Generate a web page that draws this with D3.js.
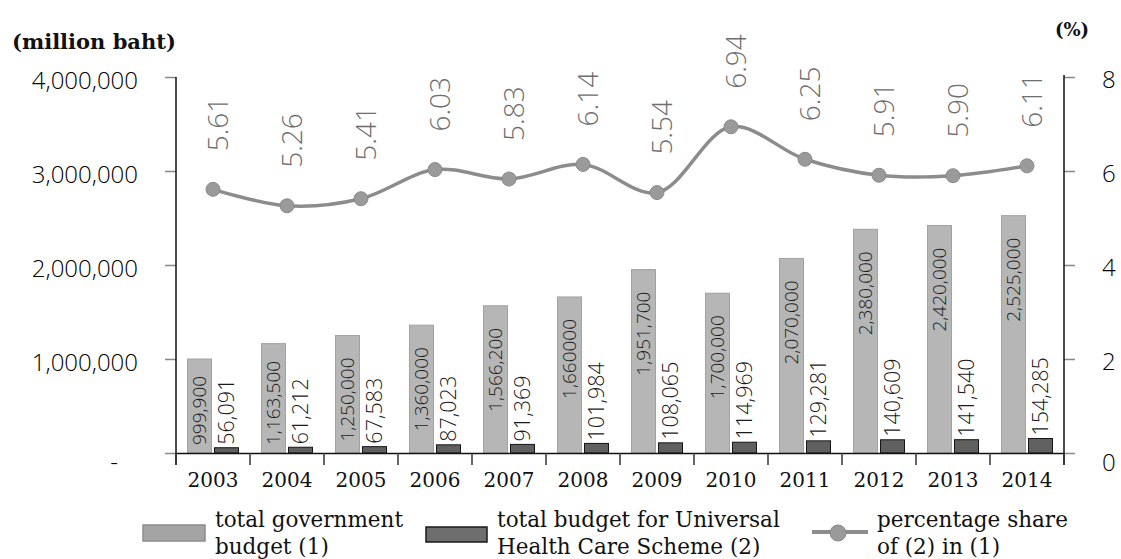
<!DOCTYPE html>
<html>
<head>
<meta charset="utf-8">
<script src="https://cdn.jsdelivr.net/npm/d3@7"></script>
<style>
  html, body { margin: 0; padding: 0; background: #fff; }
  svg { display: block; }
</style>
</head>
<body>
<svg id="chart" width="1121" height="559"></svg>
<script>
const years = ["2003","2004","2005","2006","2007","2008","2009","2010","2011","2012","2013","2014"];
const totalBudget = [999900, 1163500, 1250000, 1360000, 1566200, 1660000, 1951700, 1700000, 2070000, 2380000, 2420000, 2525000];
const totalLabels = ["999,900","1,163,500","1,250,000","1,360,000","1,566,200","1,660000","1,951,700","1,700,000","2,070,000","2,380,000","2,420,000","2,525,000"];
const uhcBudget = [56091, 61212, 67583, 87023, 91369, 101984, 108065, 114969, 129281, 140609, 141540, 154285];
const share = [5.61, 5.26, 5.41, 6.03, 5.83, 6.14, 5.54, 6.94, 6.25, 5.91, 5.90, 6.11];
const leftTicks = [0, 1000000, 2000000, 3000000, 4000000];
const rightTicks = [0, 2, 4, 6, 8];
const legendItems = [
  {key: "total", lines: ["total government", "budget (1)"]},
  {key: "uhc", lines: ["total budget for Universal", "Health Care Scheme (2)"]},
  {key: "share", lines: ["percentage share", "of (2) in (1)"]}
];

const svg = d3.select("#chart");
const sans = "'Open Sans', 'Liberation Sans', Arial, sans-serif";
const serif = "'DejaVu Serif', serif";
const lightW = 300;

const pLeft = 176, pRight = 1064, pTop = 77, pBottom = 453;
const x = d3.scaleBand().domain(years).range([pLeft, pRight]).paddingInner(0).paddingOuter(0);
const xs = d3.scaleBand().domain(["total","uhc"]).range([0, x.bandwidth()]).paddingInner(0.111).paddingOuter(0.426);
const yL = d3.scaleLinear().domain([0, 4000000]).range([pBottom, pTop]);
const yR = d3.scaleLinear().domain([0, 8]).range([pBottom, pTop]);

// Bars
const gBars = svg.append("g");
gBars.selectAll("rect.total").data(years).join("rect")
  .attr("class","total")
  .attr("x", d => x(d) + xs("total"))
  .attr("width", xs.bandwidth())
  .attr("y", (d,i) => yL(totalBudget[i]))
  .attr("height", (d,i) => pBottom - yL(totalBudget[i]))
  .attr("fill", "#b6b6b6").attr("stroke", "#a2a2a2").attr("stroke-width", 1);
gBars.selectAll("rect.uhc").data(years).join("rect")
  .attr("class","uhc")
  .attr("x", d => x(d) + xs("uhc"))
  .attr("width", xs.bandwidth())
  .attr("y", (d,i) => yL(uhcBudget[i]))
  .attr("height", (d,i) => pBottom - yL(uhcBudget[i]))
  .attr("fill", "#606060").attr("stroke", "#151515").attr("stroke-width", 1);

// Axes
const axL = svg.append("g").attr("transform", `translate(${pLeft},0)`)
  .call(d3.axisLeft(yL).tickValues(leftTicks).tickSize(11).tickPadding(27)
    .tickFormat(d => d === 0 ? "-" : d3.format(",")(d)));
axL.select(".domain").remove();
axL.selectAll(".tick line").attr("stroke", "#888").attr("stroke-width", 1.5);
axL.selectAll(".tick text").attr("font-family", sans).attr("font-weight", lightW).attr("font-size", 24).attr("fill", "#000")
  .attr("dy", d => d === 0 ? "0.7em" : "0.48em")
  .attr("dx", d => d === 0 ? -20 : 0);

const axR = svg.append("g").attr("transform", `translate(${pRight},0)`)
  .call(d3.axisRight(yR).tickValues(rightTicks).tickSize(11).tickPadding(27));
axR.select(".domain").remove();
axR.selectAll(".tick line").attr("stroke", "#888").attr("stroke-width", 1.5);
axR.selectAll(".tick text").attr("font-family", sans).attr("font-weight", lightW).attr("font-size", 24).attr("fill", "#000")
  .attr("dy", d => d === 0 ? "0.72em" : "0.42em");

// axis lines
svg.append("line").attr("x1", pLeft).attr("x2", pLeft).attr("y1", pTop).attr("y2", 465).attr("stroke", "#111").attr("stroke-width", 1.5);
svg.append("line").attr("x1", pRight).attr("x2", pRight).attr("y1", pTop - 2).attr("y2", 465).attr("stroke", "#111").attr("stroke-width", 1.5);

const axB = svg.append("g").attr("transform", `translate(0,${pBottom})`)
  .call(d3.axisBottom(x).tickSize(0).tickPadding(20));
axB.select(".domain").attr("stroke", "#111").attr("stroke-width", 1.5);
axB.selectAll(".tick text").attr("font-family", serif).attr("font-size", 20).attr("fill", "#111");
// category separator ticks
svg.append("g").selectAll("line").data(years.concat(["end"])).join("line")
  .attr("x1", (d,i) => i < years.length ? x(d) : pRight)
  .attr("x2", (d,i) => i < years.length ? x(d) : pRight)
  .attr("y1", pBottom).attr("y2", 465)
  .attr("stroke", "#333").attr("stroke-width", 1.5);

// Bar labels
const gLab = svg.append("g");
gLab.selectAll("text.tl").data(years).join("text")
  .attr("class","tl")
  .attr("font-family", sans).attr("font-weight", lightW).attr("font-size", 19).attr("fill", "#1a1a1a")
  .text((d,i) => totalLabels[i])
  .each(function(d,i){
    const len = this.getComputedTextLength();
    const cx = x(d) + xs("total") + xs.bandwidth()/2;
    const topY = yL(totalBudget[i]) + 22;
    let startY = topY + len;
    if (startY > 445) startY = 445;
    d3.select(this).attr("text-anchor","start").attr("dy","0.36em")
      .attr("transform", `translate(${cx},${startY}) rotate(-90)`);
  });
gLab.selectAll("text.ul").data(years).join("text")
  .attr("class","ul")
  .attr("font-family", sans).attr("font-weight", lightW).attr("font-size", 21.5).attr("fill", "#1a1a1a")
  .attr("text-anchor","start").attr("dy","0.36em")
  .attr("transform", (d,i) => `translate(${x(d) + xs("uhc") + xs.bandwidth()/2},${yL(uhcBudget[i]) - 3}) rotate(-90)`)
  .text((d,i) => d3.format(",")(uhcBudget[i]));

// Line
const cxs = years.map(d => x(d) + x.bandwidth()/2);
const line = d3.line().x((d,i) => cxs[i]).y(d => yR(d)).curve(d3.curveCatmullRom.alpha(0.5));
svg.append("path").datum(share).attr("d", line)
  .attr("fill","none").attr("stroke","#8c8c8c").attr("stroke-width", 3.5);
svg.append("g").selectAll("circle").data(share).join("circle")
  .attr("cx", (d,i) => cxs[i]).attr("cy", d => yR(d)).attr("r", 7)
  .attr("fill", "#9a9a9a").attr("stroke", "#8a8a8a").attr("stroke-width", 1);
svg.append("g").selectAll("text").data(share).join("text")
  .attr("font-family", sans).attr("font-weight", lightW).attr("font-size", 28).attr("fill", "#6e6e6e")
  .attr("text-anchor","start").attr("dy","0.36em")
  .attr("transform", (d,i) => `translate(${cxs[i] + 5},${yR(d) - 38}) rotate(-90)`)
  .text(d => d3.format(".2f")(d));

// Axis titles
svg.append("text").attr("x", 12).attr("y", 49).attr("font-family", serif).attr("font-size", 21)
  .attr("font-weight","bold").attr("fill","#111").text("(million baht)");
svg.append("text").attr("x", 1072).attr("y", 36).attr("text-anchor","middle").attr("font-family", serif)
  .attr("font-weight","bold").attr("font-size", 18).attr("fill","#111").text("(%)");

// Legend
const legX = [143, 426, 812];
const gLeg = svg.append("g");
legendItems.forEach((it, i) => {
  const g = gLeg.append("g").attr("transform", `translate(${legX[i]},0)`);
  if (it.key === "total") {
    g.append("rect").attr("x",0).attr("y",525).attr("width",62).attr("height",16)
      .attr("fill","#a4a4a4").attr("stroke","#8c8c8c").attr("stroke-width",1.5);
  } else if (it.key === "uhc") {
    g.append("rect").attr("x",0).attr("y",527).attr("width",61).attr("height",15)
      .attr("fill","#6e6e6e").attr("stroke","#1a1a1a").attr("stroke-width",1.5);
  } else {
    g.append("line").attr("x1",0).attr("x2",56).attr("y1",532).attr("y2",532)
      .attr("stroke","#8c8c8c").attr("stroke-width",4);
    g.append("circle").attr("cx",26).attr("cy",533).attr("r",8).attr("fill","#9a9a9a").attr("stroke","#8a8a8a");
  }
  const tx = it.key === "total" ? 72 : (it.key === "uhc" ? 71 : 65);
  const t = g.append("text").attr("font-family", serif).attr("font-size", 21.5).attr("fill","#111");
  it.lines.forEach((ln, j) => {
    t.append("tspan").attr("x", tx).attr("y", 527 + j*27).text(ln);
  });
});
</script>
</body>
</html>
